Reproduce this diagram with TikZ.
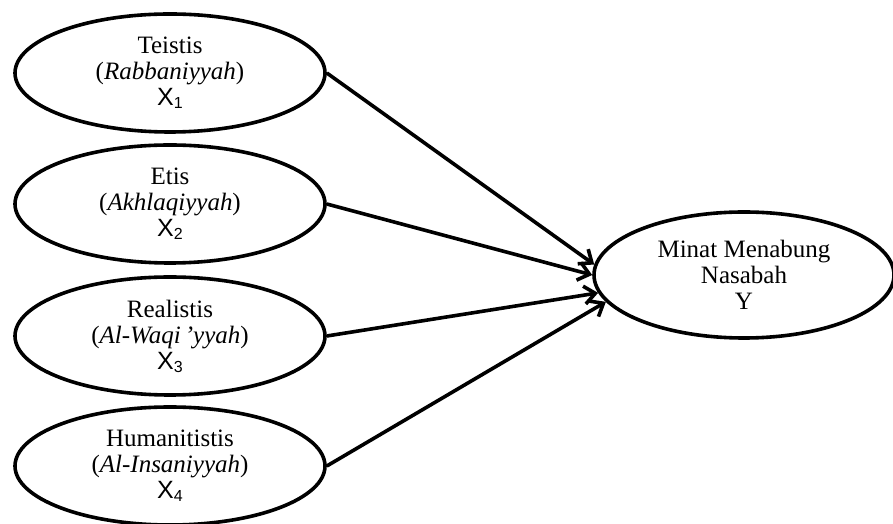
\documentclass[tikz,border=0pt]{standalone}
\usepackage{fontspec}
\setmainfont{Liberation Serif}
\newfontfamily\xfont{Liberation Sans}
\newcommand{\xv}[1]{{\xfont X\raisebox{-1.5pt}{\fontsize{8}{8}\selectfont #1}}}
\usetikzlibrary{shapes.geometric, arrows.meta, positioning}

\begin{document}
\begin{tikzpicture}[x=0.5pt, y=0.5pt,
		var/.style={ellipse, draw=black, line width=1.8pt, inner sep=0pt,
			minimum width=155pt, minimum height=59pt, align=center,
			font=\fontsize{12.5}{13}\selectfont},
		link/.style={line width=1.8pt, -{Straight Barb[length=5.5pt,width=9pt]}}]
		\useasboundingbox (0,0) rectangle (893,524);
		%-------------------------------------------------------------------------------
		% independent variables
		%-------------------------------------------------------------------------------
		\node[var] (x1) at (170,451) {Teistis\\(\textit{Rabbaniyyah})\\\xv{1}};
		\node[var] (x2) at (170,320) {Etis\\(\textit{Akhlaqiyyah})\\\xv{2}};
		\node[var] (x3) at (170,188) {Realistis\\(\textit{Al-Waqi\,’yyah})\\\xv{3}};
		\node[var] (x4) at (170,58) {Humanitistis\\(\textit{Al-Insaniyyah})\\\xv{4}};
		
		% dependent variable
		\node[var, minimum width=150pt, minimum height=63pt] (y) 
			at (744,249) {Minat Menabung\\Nasabah\\Y};
		
		% paths
		\draw[link] (x1.east) -- (y.176);
		\draw[link] (x2.east) -- (y.180);
		\draw[link] (x3.east) -- (y.187);
		\draw[link] (x4.east) -- (y.191);
		\end{tikzpicture}
\end{document}
